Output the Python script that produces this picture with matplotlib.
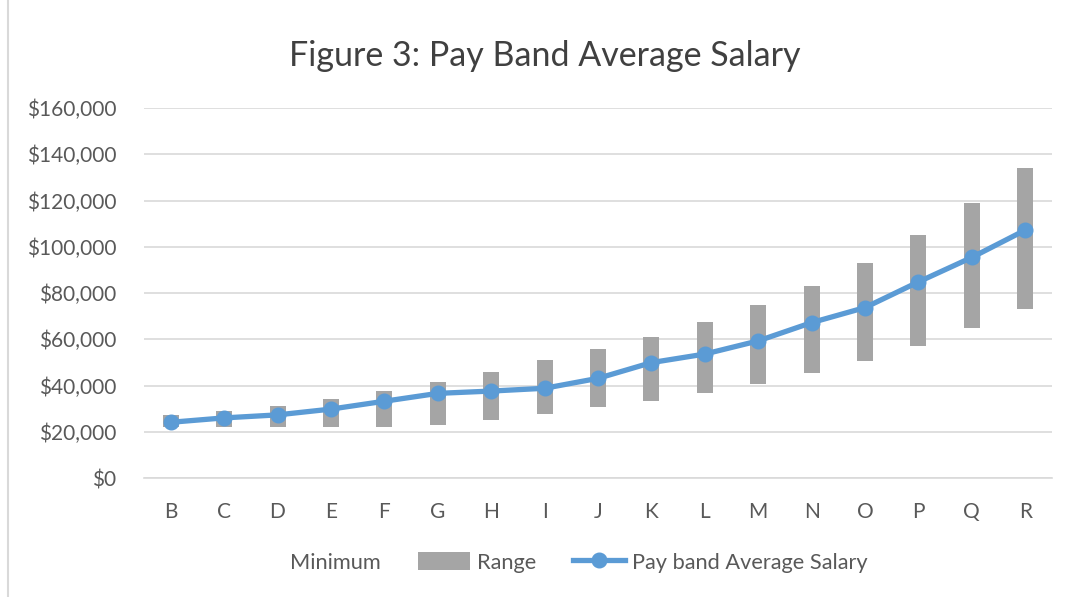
import matplotlib.pyplot as plt
import numpy as np
from matplotlib.ticker import FuncFormatter
from matplotlib.patches import Patch
from matplotlib.lines import Line2D

plt.rcParams['font.family'] = ['Lato', 'DejaVu Sans']

bands = ['B', 'C', 'D', 'E', 'F', 'G', 'H', 'I', 'J', 'K', 'L', 'M', 'N', 'O', 'P', 'Q', 'R']
minimum = [22000, 22000, 22000, 22000, 22000, 22900, 25100, 27800, 30600, 33400,
           36600, 40800, 45300, 50700, 57200, 64700, 73200]
maximum = [27200, 29000, 31300, 34300, 37800, 41500, 46000, 50900, 55900, 61000,
           67300, 74800, 83000, 92800, 105000, 118800, 134000]
average = [24100, 26000, 27300, 29800, 33200, 36600, 37600, 38800, 43100, 49900,
           53600, 59300, 67200, 73700, 84800, 95400, 107200]

rng = np.array(maximum) - np.array(minimum)
x = np.arange(len(bands))

fig = plt.figure(figsize=(10.73, 5.97), dpi=100)
ax = fig.add_axes([0.1342, 0.1993, 0.8462, 0.6198])

ax.bar(x, minimum, width=0.3, color='none')
ax.bar(x, rng, bottom=minimum, width=0.3, color='#A5A5A5', zorder=2)
ax.plot(x, average, color='#5B9BD5', lw=3.8, marker='o', markersize=10.5, zorder=3)

ax.set_ylim(0, 160000)
ax.set_yticks(range(0, 160001, 20000))
ax.yaxis.set_major_formatter(FuncFormatter(lambda v, p: '${:,.0f}'.format(v)))
ax.set_xlim(-0.5, len(bands) - 0.5)
ax.set_xticks(x)
ax.set_xticklabels(bands)
ax.grid(axis='y', color='#D9D9D9', lw=1.2, zorder=0)
ax.set_axisbelow(True)
for s in ['top', 'right', 'left']:
    ax.spines[s].set_visible(False)
ax.spines['bottom'].set_color('#D9D9D9')
ax.spines['bottom'].set_linewidth(1.2)
ax.tick_params(axis='both', length=0, labelsize=15, colors='#595959')
ax.tick_params(axis='x', pad=17)
ax.tick_params(axis='y', pad=20)

fig.text(0.508, 0.906, 'Figure 3: Pay Band Average Salary', ha='center', va='center',
         fontsize=24.5, color='#404040')

handles = [Patch(facecolor='none', edgecolor='none'),
           Patch(facecolor='#A5A5A5'),
           Line2D([], [], color='#5B9BD5', lw=3.8, marker='o', markersize=10.5)]
fig.legend(handles, ['Minimum', 'Range', 'Pay band Average Salary'], loc='center',
           bbox_to_anchor=(0.512, 0.058), ncol=3, frameon=False, fontsize=15.7,
           labelcolor='#595959', handlelength=2.4, handleheight=0.9,
           handletextpad=0.3, columnspacing=1.7)

fig.add_artist(Line2D([0.0075, 0.0075], [0, 1], transform=fig.transFigure,
                      color='#D9D9D9', lw=1.5))

fig.savefig('out.png', dpi=100)
